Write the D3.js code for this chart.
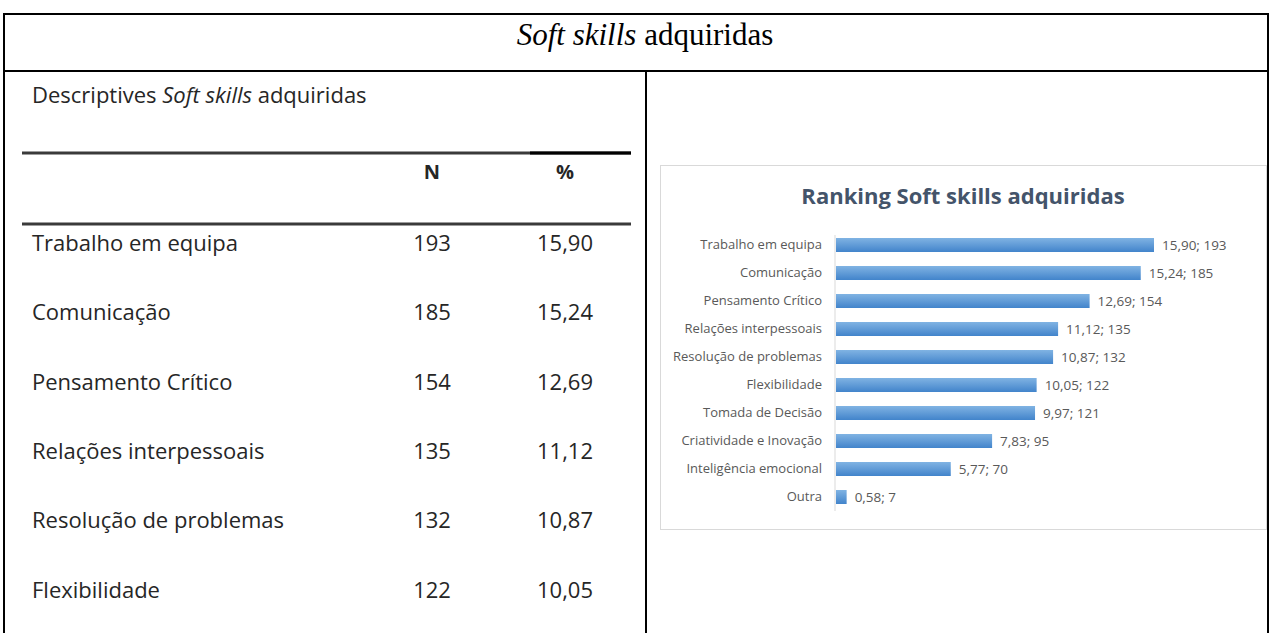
<!DOCTYPE html>
<html>
<head>
<meta charset="utf-8">
<script src="https://cdn.jsdelivr.net/npm/d3@7"></script>
<style>
  body { margin: 0; background: #fff; }
  svg { display: block; }
</style>
</head>
<body>
<div id="page"></div>
<script>
// data
const skills = ["Trabalho em equipa", "Comunicação", "Pensamento Crítico", "Relações interpessoais",
  "Resolução de problemas", "Flexibilidade", "Tomada de Decisão", "Criatividade e Inovação",
  "Inteligência emocional", "Outra"];
const counts = [193, 185, 154, 135, 132, 122, 121, 95, 70, 7];
const percents = [15.90, 15.24, 12.69, 11.12, 10.87, 10.05, 9.97, 7.83, 5.77, 0.58];
const tableRows = 6; // rows visible in the left table

const fmt = v => v.toFixed(2).replace(".", ",");

const W = 1270, H = 633;
const svg = d3.select("#page").append("svg")
  .attr("width", W).attr("height", H);

// ---- outer frame ----
const frame = svg.append("g").attr("stroke", "#000").attr("stroke-width", 2);
frame.append("line").attr("x1", 3).attr("x2", 1269).attr("y1", 14).attr("y2", 14);
frame.append("line").attr("x1", 3).attr("x2", 1269).attr("y1", 71).attr("y2", 71);
frame.append("line").attr("x1", 4).attr("x2", 4).attr("y1", 13).attr("y2", H);
frame.append("line").attr("x1", 1268).attr("x2", 1268).attr("y1", 13).attr("y2", H);
frame.append("line").attr("x1", 646).attr("x2", 646).attr("y1", 71).attr("y2", H);

// main title
const mainTitle = svg.append("text")
  .attr("x", 645).attr("y", 45)
  .attr("text-anchor", "middle")
  .style("font-family", "'Liberation Serif', serif")
  .style("font-size", "31px")
  .attr("fill", "#000");
mainTitle.append("tspan").style("font-style", "italic").text("Soft skills");
mainTitle.append("tspan").text(" adquiridas");

// ---- left table ----
const tbl = svg.append("g").style("font-family", "'Open Sans', sans-serif").attr("fill", "#262626");

const cap = tbl.append("text").attr("x", 32).attr("y", 103).style("font-size", "22px");
cap.append("tspan").text("Descriptives ");
cap.append("tspan").style("font-style", "italic").text("Soft skills");
cap.append("tspan").text(" adquiridas");

[153, 224].forEach(y => {
  tbl.append("line").attr("x1", 22).attr("x2", 631).attr("y1", y).attr("y2", y)
    .attr("stroke", "#3a3a3a").attr("stroke-width", 3);
});
tbl.append("line").attr("x1", 530).attr("x2", 631).attr("y1", 153).attr("y2", 153)
  .attr("stroke", "#000").attr("stroke-width", 3);

const colN = 432, colP = 565;
tbl.append("text").attr("x", colN).attr("y", 179).attr("text-anchor", "middle")
  .style("font-size", "20px").style("font-weight", "bold").text("N");
tbl.append("text").attr("x", colP).attr("y", 179).attr("text-anchor", "middle")
  .style("font-size", "20px").style("font-weight", "bold").text("%");

const rowY = d3.scalePoint().domain(d3.range(tableRows)).range([243, 590]);
const rows = tbl.selectAll("g.row")
  .data(d3.range(tableRows))
  .join("g").attr("class", "row")
  .attr("transform", i => `translate(0,${rowY(i)})`)
  .style("font-size", "22px");
rows.append("text").attr("x", 32).attr("dy", "0.35em").text(i => skills[i]);
rows.append("text").attr("x", colN).attr("dy", "0.35em").attr("text-anchor", "middle").text(i => counts[i]);
rows.append("text").attr("x", colP).attr("dy", "0.35em").attr("text-anchor", "middle").text(i => fmt(percents[i]));

// ---- chart ----
const chart = svg.append("g");
chart.append("rect").attr("x", 660.5).attr("y", 165.5).attr("width", 606).attr("height", 364)
  .attr("fill", "#fff").attr("stroke", "#d9d9d9").attr("stroke-width", 1);

chart.append("text").attr("x", 963).attr("y", 204).attr("text-anchor", "middle")
  .style("font-family", "'Open Sans', sans-serif").style("font-size", "22px").style("font-weight", "bold")
  .attr("fill", "#44546a").text("Ranking Soft skills adquiridas");

const defs = svg.append("defs");
const grad = defs.append("linearGradient").attr("id", "barGrad")
  .attr("x1", 0).attr("x2", 0).attr("y1", 0).attr("y2", 1);
grad.append("stop").attr("offset", "0%").attr("stop-color", "#80b3e3");
grad.append("stop").attr("offset", "100%").attr("stop-color", "#4284cb");

const x0 = 835;
const x = d3.scaleLinear().domain([0, 15.90]).range([x0, 1154]);
const y = d3.scaleBand().domain(skills).range([231, 511]).paddingInner(0.5).paddingOuter(0.25);

const yAxis = d3.axisLeft(y).tickSize(0).tickPadding(13);
const ax = chart.append("g").attr("transform", `translate(${x0},0)`).call(yAxis);
ax.select(".domain").attr("stroke", "#d9d9d9").attr("d", "M0,235V511");
ax.selectAll("text")
  .style("font-family", "'Open Sans', sans-serif").style("font-size", "13px")
  .attr("fill", "#595959");

chart.selectAll("rect.bar")
  .data(skills)
  .join("rect").attr("class", "bar")
  .attr("x", x0 + 1)
  .attr("y", d => y(d))
  .attr("height", y.bandwidth())
  .attr("width", (d, i) => x(percents[i]) - x0 - 1)
  .attr("fill", "url(#barGrad)");

chart.selectAll("text.val")
  .data(skills)
  .join("text").attr("class", "val")
  .attr("x", (d, i) => x(percents[i]) + 8)
  .attr("y", d => y(d) + y.bandwidth() / 2)
  .attr("dy", "0.35em")
  .style("font-family", "'Open Sans', sans-serif").style("font-size", "13.5px")
  .attr("fill", "#595959")
  .text((d, i) => `${fmt(percents[i])}; ${counts[i]}`);
</script>
</body>
</html>
